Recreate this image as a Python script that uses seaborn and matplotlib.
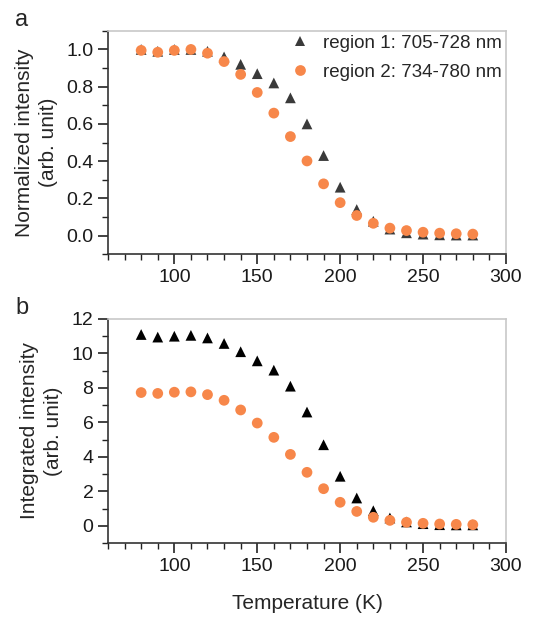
import numpy as np
import pandas as pd
import seaborn as sns
import matplotlib.pyplot as plt
from matplotlib.ticker import MultipleLocator

temperature = [80, 90, 100, 110, 120, 130, 140, 150, 160, 170, 180,
               190, 200, 210, 220, 230, 240, 250, 260, 270, 280]

# panel a: normalized intensity
norm_region1 = [1.0, 0.99, 1.0, 1.0, 0.99, 0.96, 0.92, 0.87, 0.82, 0.74, 0.60,
                0.43, 0.26, 0.14, 0.077, 0.035, 0.015, 0.008, 0.004, 0.003, 0.003]
norm_region2 = [0.995, 0.985, 0.995, 1.0, 0.98, 0.935, 0.866, 0.769, 0.658, 0.532, 0.401,
                0.278, 0.177, 0.108, 0.066, 0.04, 0.027, 0.018, 0.013, 0.01, 0.008]

# panel b: integrated intensity
int_region1 = [11.1, 10.95, 11.0, 11.05, 10.9, 10.58, 10.1, 9.57, 9.03, 8.1, 6.6,
               4.7, 2.87, 1.61, 0.87, 0.45, 0.22, 0.12, 0.06, 0.05, 0.05]
int_region2 = [7.73, 7.68, 7.75, 7.77, 7.61, 7.28, 6.72, 5.96, 5.13, 4.14, 3.1,
               2.15, 1.36, 0.83, 0.49, 0.31, 0.2, 0.14, 0.1, 0.08, 0.06]

labels = ['region 1: 705-728 nm', 'region 2: 734-780 nm']

sns.set_style('ticks')
plt.rcParams['font.family'] = ['Liberation Sans', 'DejaVu Sans']
orange = '#f7874a'


def long_df(r1, r2):
    return pd.DataFrame({
        'T': temperature * 2,
        'I': r1 + r2,
        'region': [labels[0]] * len(r1) + [labels[1]] * len(r2),
    })


def style_axes(ax, ylo, yhi, major, minor):
    ax.set_xlim(60, 300)
    ax.set_ylim(ylo, yhi)
    ax.xaxis.set_major_locator(MultipleLocator(50))
    ax.xaxis.set_minor_locator(MultipleLocator(10))
    ax.yaxis.set_major_locator(MultipleLocator(major))
    ax.yaxis.set_minor_locator(MultipleLocator(minor))
    ax.set_xticks([100, 150, 200, 250, 300])
    ax.tick_params(which='major', direction='out', length=7, width=1.2,
                   labelsize=14, color='#222222', labelcolor='#1a1a1a')
    ax.tick_params(which='minor', direction='out', length=4, width=1.0,
                   color='#222222')
    for s in ['left', 'bottom']:
        ax.spines[s].set_color('#333333')
        ax.spines[s].set_linewidth(1.2)
    for s in ['top', 'right']:
        ax.spines[s].set_color('#c8c8c8')
        ax.spines[s].set_linewidth(1.2)


fig = plt.figure(figsize=(5.4, 6.17), dpi=100)
ax1 = fig.add_axes([0.2, 0.588, 0.737, 0.362])
ax2 = fig.add_axes([0.2, 0.12, 0.737, 0.363])

df_a = long_df(norm_region1, norm_region2)
sns.scatterplot(data=df_a, x='T', y='I', hue='region', style='region',
                palette=['#3a3a3a', orange], markers=['^', 'o'],
                s=60, linewidth=0, ax=ax1)
style_axes(ax1, -0.1, 1.1, 0.2, 0.1)
ax1.set_yticks([0.0, 0.2, 0.4, 0.6, 0.8, 1.0])
ax1.set_xlabel('')
ax1.set_ylabel('Normalized intensity\n(arb. unit)', fontsize=15, labelpad=6,
               linespacing=1.35)
leg = ax1.legend(loc='upper right', bbox_to_anchor=(1.0, 1.0), frameon=False,
                 fontsize=13.5, handletextpad=0.25, borderaxespad=0.0,
                 borderpad=0.2, labelspacing=0.65, markerscale=1.0)

df_b = long_df(int_region1, int_region2)
sns.scatterplot(data=df_b, x='T', y='I', hue='region', style='region',
                palette=['black', orange], markers=['^', 'o'],
                s=60, linewidth=0, ax=ax2, legend=False)
style_axes(ax2, -1, 12, 2, 1)
ax2.set_yticks([0, 2, 4, 6, 8, 10, 12])
ax2.set_xlabel('Temperature (K)', fontsize=15, labelpad=14)
ax2.set_ylabel('Integrated intensity\n(arb. unit)', fontsize=15, labelpad=6,
               linespacing=1.35)

fig.text(0.028, 0.967, 'a', fontsize=17, va='center')
fig.text(0.028, 0.5, 'b', fontsize=17, va='center')

fig.savefig('out.png', dpi=100)
